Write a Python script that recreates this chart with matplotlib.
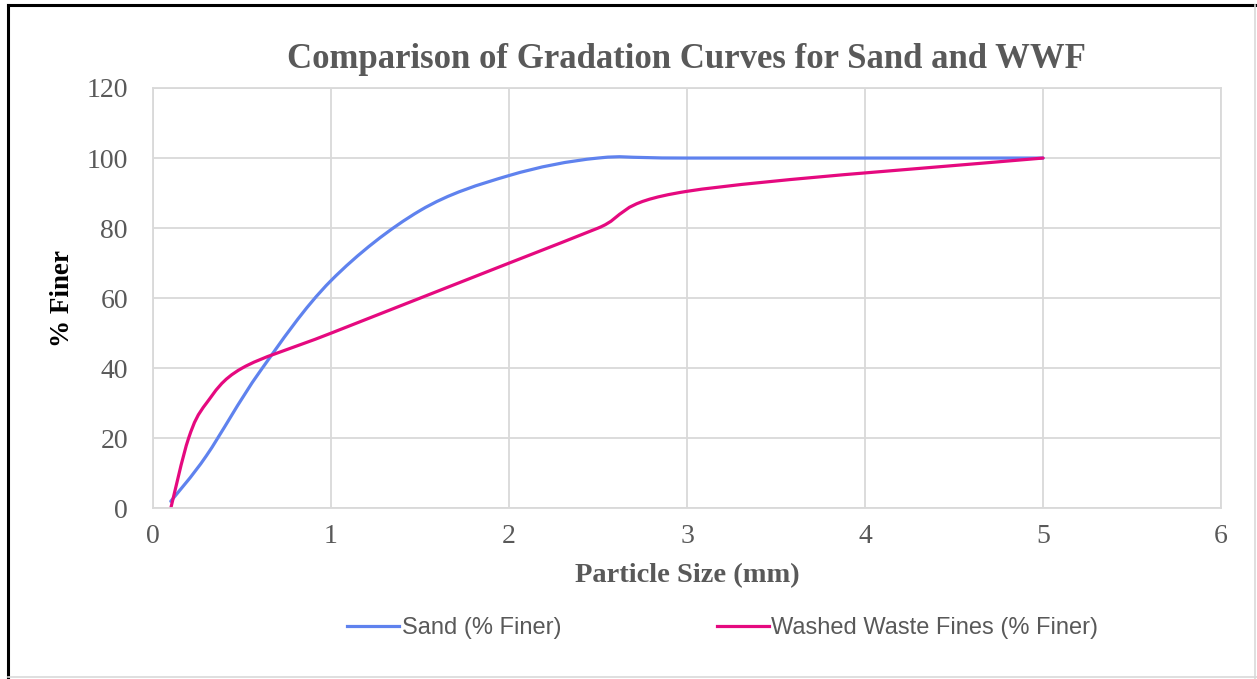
import matplotlib
matplotlib.use("Agg")
import matplotlib.pyplot as plt
from matplotlib.path import Path
from matplotlib.patches import PathPatch
from matplotlib.lines import Line2D

# Sieve analysis results
sand_size = [0.1, 0.3, 0.6, 1.0, 1.5, 2.0, 2.5, 3.0, 5.0]
sand_finer = [2, 15, 39, 65, 85, 95, 100, 100, 100]

wwf_size = [0.1, 0.2, 0.3, 0.5, 1.0, 2.0, 2.5, 3.0, 5.0]
wwf_finer = [0, 20, 30, 40, 50, 70, 80, 90.5, 100]

x_ticks = [0, 1, 2, 3, 4, 5, 6]
y_ticks = [0, 20, 40, 60, 80, 100, 120]

SERIF = ["Liberation Serif", "DejaVu Serif"]
SANS = ["Liberation Sans", "DejaVu Sans"]
GRID = "#d9d9d9"
TEXT = "#595959"


def smooth_path(xs, ys):
    # spreadsheet-style smoothed line: cubic bezier through every point
    pts = list(zip(xs, ys))
    n = len(pts)
    verts = [pts[0]]
    codes = [Path.MOVETO]
    for i in range(n - 1):
        p0 = pts[max(i - 1, 0)]
        p1 = pts[i]
        p2 = pts[i + 1]
        p3 = pts[min(i + 2, n - 1)]
        c1 = (p1[0] + (p2[0] - p0[0]) / 6, p1[1] + (p2[1] - p0[1]) / 6)
        c2 = (p2[0] - (p3[0] - p1[0]) / 6, p2[1] - (p3[1] - p1[1]) / 6)
        verts += [c1, c2, p2]
        codes += [Path.CURVE4] * 3
    return Path(verts, codes)


fig = plt.figure(figsize=(12.57, 6.79), dpi=100)
ax = fig.add_axes([0.1217, 0.2514, 0.8497, 0.619])

ax.set_xlim(0, 6)
ax.set_ylim(0, 120)
ax.set_xticks(x_ticks)
ax.set_yticks(y_ticks)
ax.grid(True, color=GRID, linewidth=1.3)
ax.set_axisbelow(True)
for s in ax.spines.values():
    s.set_color(GRID)
    s.set_linewidth(1.3)
ax.tick_params(length=0, labelsize=20, labelcolor=TEXT)
ax.tick_params(axis="y", pad=18)
ax.tick_params(axis="x", pad=11)
for lab in ax.get_xticklabels() + ax.get_yticklabels():
    lab.set_family(SERIF)

blue = "#5f82ee"
pink = "#e5097f"
ax.add_patch(PathPatch(smooth_path(sand_size, sand_finer), fill=False,
                       edgecolor=blue, linewidth=2.3, capstyle="round"))
ax.add_patch(PathPatch(smooth_path(wwf_size, wwf_finer), fill=False,
                       edgecolor=pink, linewidth=2.3, capstyle="round"))

fig.text(0.546, 0.912, "Comparison of Gradation Curves for Sand and WWF",
         ha="center", va="center", fontsize=25, fontweight="bold",
         color=TEXT, family=SERIF)
fig.text(0.5465, 0.152, "Particle Size (mm)", ha="center", va="center",
         fontsize=20.5, fontweight="bold", color=TEXT, family=SERIF)
fig.text(0.050, 0.561, "% Finer", ha="center", va="center", rotation=90,
         fontsize=19.5, fontweight="bold", color="black", family=SERIF)

handles = [Line2D([], [], color=blue, linewidth=2.3),
           Line2D([], [], color=pink, linewidth=2.3)]
fig.legend(handles, ["Sand (% Finer)", "Washed Waste Fines (% Finer)"],
           loc="center", bbox_to_anchor=(0.575, 0.075), ncol=2, frameon=False,
           handlelength=2.2, handletextpad=0.1, columnspacing=6.6,
           prop={"family": SANS, "size": 17}, labelcolor=TEXT)

# outer frame
fig.add_artist(Line2D([0.0065, 0.0065], [0, 0.993], color="black", linewidth=2.2,
                      transform=fig.transFigure))
fig.add_artist(Line2D([0.0065, 1], [0.993, 0.993], color="black", linewidth=2.2,
                      transform=fig.transFigure))
fig.add_artist(Line2D([0.9985, 0.9985], [0, 0.993], color=GRID, linewidth=1.2,
                      transform=fig.transFigure))
fig.add_artist(Line2D([0.0065, 1], [0.003, 0.003], color=GRID, linewidth=1.2,
                      transform=fig.transFigure))

fig.savefig("out.png", dpi=100)
